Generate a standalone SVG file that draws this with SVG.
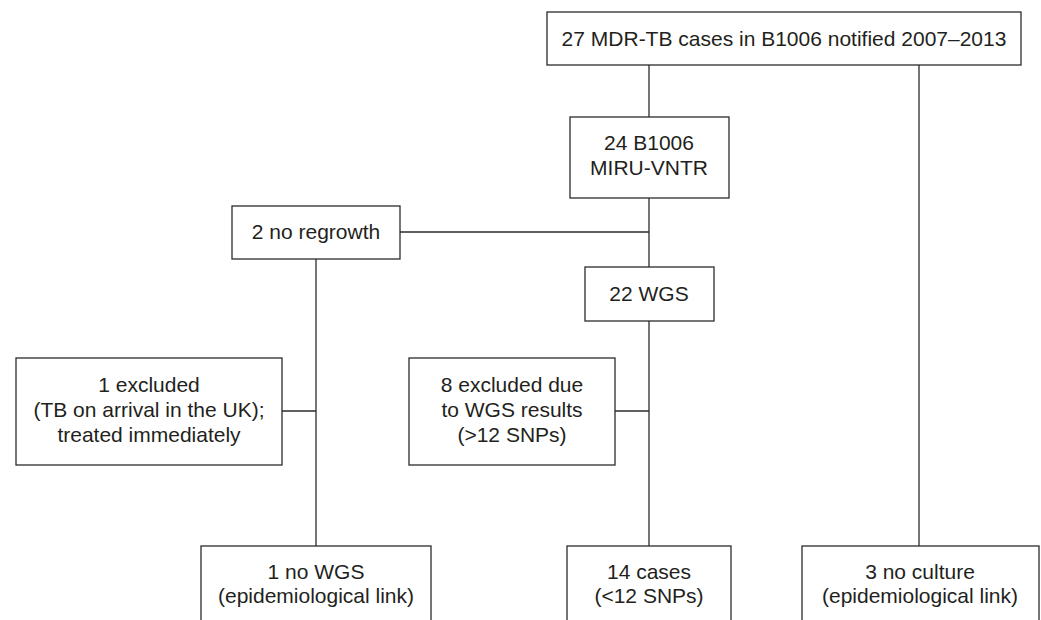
<svg xmlns="http://www.w3.org/2000/svg" width="1041" height="620" viewBox="0 0 1041 620">
<style>
.box{fill:#fff;stroke:#2b2b2b;stroke-width:1.3}
.ln{fill:none;stroke:#2b2b2b;stroke-width:1.3}
text{font-family:"Liberation Sans",Arial,sans-serif;font-size:21px;fill:#231f20;text-anchor:middle}
</style>
<rect width="1041" height="620" fill="#fff"/>
<g id="connectors">
<line class="ln" x1="649" y1="65" x2="649" y2="117"/>
<line class="ln" x1="919" y1="65" x2="919" y2="546"/>
<line class="ln" x1="649" y1="198" x2="649" y2="267"/>
<line class="ln" x1="400" y1="232" x2="649" y2="232"/>
<line class="ln" x1="316" y1="259" x2="316" y2="546"/>
<line class="ln" x1="282" y1="411" x2="316" y2="411"/>
<line class="ln" x1="649" y1="321" x2="649" y2="546"/>
<line class="ln" x1="615" y1="411" x2="649" y2="411"/>
</g>
<g id="n_top">
<rect class="box" x="547" y="12" width="474" height="53"/>
<text x="784" y="46">27 MDR-TB cases in B1006 notified 2007–2013</text>
</g>
<g id="n_miru">
<rect class="box" x="570" y="117" width="159" height="81"/>
<text x="649" y="150">24 B1006</text>
<text x="649" y="175">MIRU-VNTR</text>
</g>
<g id="n_regrowth">
<rect class="box" x="232" y="206" width="168" height="53"/>
<text x="316" y="239">2 no regrowth</text>
</g>
<g id="n_wgs">
<rect class="box" x="585" y="267" width="129" height="54"/>
<text x="649" y="301">22 WGS</text>
</g>
<g id="n_excl1">
<rect class="box" x="16" y="358" width="266" height="107"/>
<text x="149" y="392">1 excluded</text>
<text x="149" y="417">(TB on arrival in the UK);</text>
<text x="149" y="442">treated immediately</text>
</g>
<g id="n_excl8">
<rect class="box" x="409" y="358" width="206" height="107"/>
<text x="512" y="392">8 excluded due</text>
<text x="512" y="417">to WGS results</text>
<text x="512" y="442">(&gt;12 SNPs)</text>
</g>
<g id="n_nowgs">
<rect class="box" x="201" y="546" width="230" height="90"/>
<text x="316" y="579">1 no WGS</text>
<text x="316" y="603">(epidemiological link)</text>
</g>
<g id="n_cases">
<rect class="box" x="567" y="546" width="164" height="90"/>
<text x="649" y="579">14 cases</text>
<text x="649" y="603">(&lt;12 SNPs)</text>
</g>
<g id="n_noculture">
<rect class="box" x="802" y="546" width="237" height="90"/>
<text x="920" y="579">3 no culture</text>
<text x="920" y="603">(epidemiological link)</text>
</g>
</svg>
